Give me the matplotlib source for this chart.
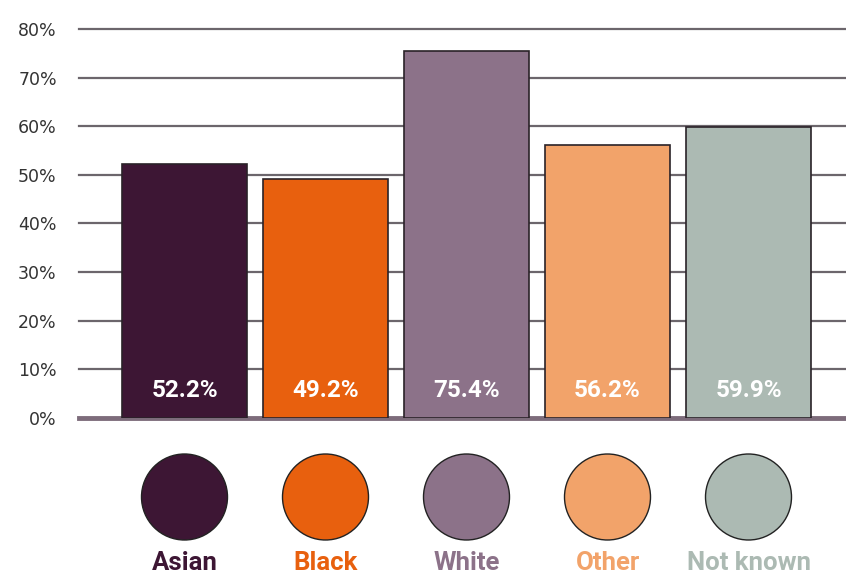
import matplotlib.pyplot as plt

# Share of each ethnic group, in percent
groups = ["Asian", "Black", "White", "Other", "Not known"]
shares = [52.2, 49.2, 75.4, 56.2, 59.9]
colours = ["#3d1634", "#e8600e", "#8c7289", "#f2a36a", "#acbab3"]
yticks = [0, 10, 20, 30, 40, 50, 60, 70, 80]

W, H = 846, 574
fig = plt.figure(figsize=(W / 100, H / 100), dpi=100)

x = list(range(len(groups)))
xlo = -105.5 / 141
xhi = xlo + 767 / 141

# bar panel
ax = fig.add_axes([79 / W, 1 - 418 / H, 767 / W, 389 / H])
for v in yticks[1:]:
    ax.axhline(v, color="#6c666c", lw=1.6, zorder=0, clip_on=False)
ax.axhline(0, color="#7d6c7b", lw=3.5, zorder=0, clip_on=False)
ax.bar(x, shares, width=125 / 141, color=colours, edgecolor="#2a2228",
       linewidth=1.2, zorder=2)
for i, v in enumerate(shares):
    ax.text(i, 5.6, f"{v}%", ha="center", va="center", color="white",
            fontsize=17.5, fontweight="bold", family="Roboto", zorder=3)
ax.set_xlim(xlo, xhi)
ax.set_ylim(0, 80)
ax.set_yticks(yticks)
ax.set_yticklabels([f"{v}%" for v in yticks], family="DejaVu Sans",
                   fontsize=12.5, color="#333333")
ax.tick_params(axis="y", length=0, pad=16)
ax.set_xticks([])
for s in ax.spines.values():
    s.set_visible(False)

# colour key with circles and names
kx = fig.add_axes([79 / W, 0, 767 / W, 134 / H])
kx.set_xlim(xlo, xhi)
kx.set_ylim(0, 134)
kx.scatter(x, [77] * len(x), s=(86 * 0.72) ** 2, c=colours,
           edgecolors="#222222", linewidths=1.0)
for i, g in enumerate(groups):
    kx.text(i, 11, g, ha="center", va="center", color=colours[i],
            fontsize=18.5, fontweight="bold", family="Roboto")
kx.axis("off")

fig.savefig("out.png", dpi=100)
